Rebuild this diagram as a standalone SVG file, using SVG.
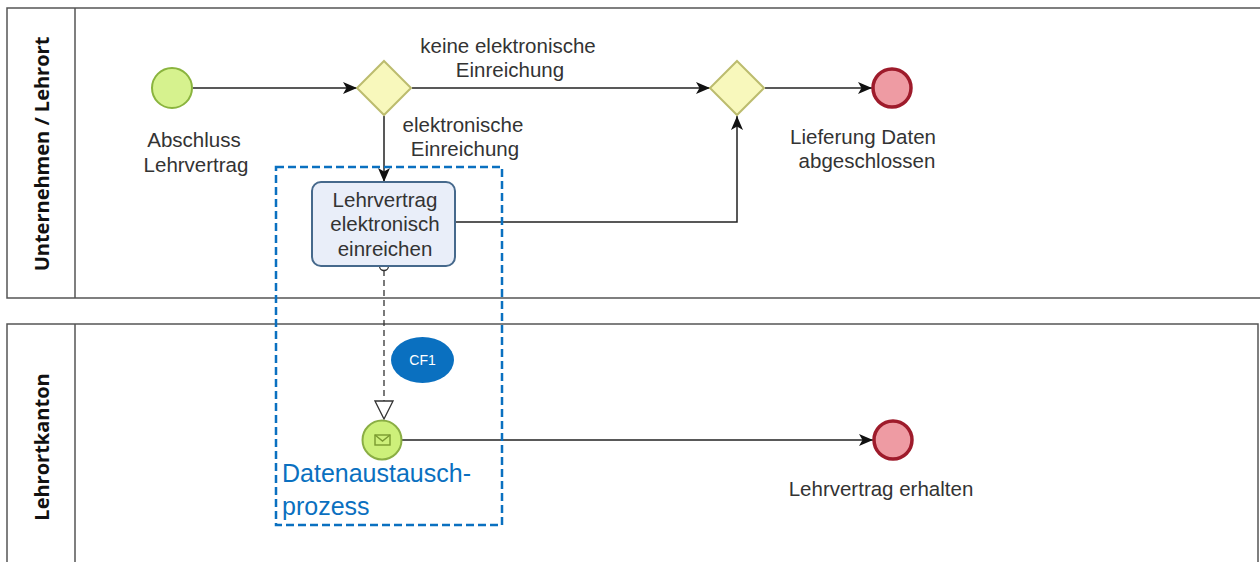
<svg xmlns="http://www.w3.org/2000/svg" width="1260" height="562" viewBox="0 0 1260 562">
<style>
.lane{fill:#fff;stroke:#555;stroke-width:1.5}
.lt{font-family:"Open Sans","Liberation Sans",sans-serif;font-weight:bold;font-size:20px;fill:#111;text-anchor:middle}
.lbl{font-family:"Liberation Sans",Arial,sans-serif;font-size:20.5px;fill:#333;text-anchor:middle}
.flow{fill:none;stroke:#222;stroke-width:1.5}
.msg{fill:none;stroke:#333;stroke-width:1.3;stroke-dasharray:6 4}
.start{fill:#d6f28e;stroke:#8ab43e;stroke-width:2}
.end{fill:#ee9ba3;stroke:#9e1b2b;stroke-width:3.5}
.gw{fill:#f8f8bc;stroke:#bcbc6e;stroke-width:2}
.task{fill:#e9eef9;stroke:#46698c;stroke-width:2}
.blue{font-family:"Liberation Sans",Arial,sans-serif;fill:#0a70c0}
</style>
<defs>
<marker id="ah" viewBox="0 0 14 12" refX="14" refY="6" markerWidth="14" markerHeight="12" markerUnits="userSpaceOnUse" orient="auto">
<path d="M0,0 L14,6 L0,12 L3.5,6 Z" fill="#111"/>
</marker>
<marker id="oh" viewBox="0 0 20 20" refX="19" refY="10" markerWidth="20" markerHeight="20" markerUnits="userSpaceOnUse" orient="auto">
<path d="M1,1 L19,10 L1,19 Z" fill="#fff" stroke="#333" stroke-width="1.3"/>
</marker>
</defs>
<rect width="1260" height="562" fill="#fff"/>
<g id="lane1">
<rect class="lane" x="7" y="8" width="1256" height="290"/>
<line x1="75" y1="8" x2="75" y2="298" stroke="#555" stroke-width="1.5"/>
<text class="lt" transform="translate(49,154) rotate(-90)">Unternehmen / Lehrort</text>
</g>
<g id="lane2">
<rect class="lane" x="7" y="324" width="1251" height="245"/>
<line x1="75" y1="324" x2="75" y2="562" stroke="#555" stroke-width="1.5"/>
<text class="lt" transform="translate(49,447) rotate(-90)">Lehrortkanton</text>
</g>
<g id="connectors">
<line class="flow" x1="193" y1="88" x2="357" y2="88" marker-end="url(#ah)"/>
<line class="flow" x1="412" y1="88" x2="710" y2="88" marker-end="url(#ah)"/>
<line class="flow" x1="765" y1="88" x2="872" y2="88" marker-end="url(#ah)"/>
<line class="flow" x1="384" y1="116" x2="384" y2="182" marker-end="url(#ah)"/>
<polyline class="flow" points="455,222 737,222 737,116" marker-end="url(#ah)"/>
<line class="flow" x1="402" y1="440" x2="873" y2="440" marker-end="url(#ah)"/>
<line class="msg" x1="384" y1="270" x2="384" y2="419" marker-end="url(#oh)"/>
<circle cx="384" cy="266" r="4.5" fill="#fff" stroke="#333" stroke-width="1.3"/>
<text class="lbl" x="508" y="53">keine elektronische</text>
<text class="lbl" x="510" y="77">Einreichung</text>
<text class="lbl" x="463" y="132">elektronische</text>
<text class="lbl" x="465" y="156">Einreichung</text>
</g>
<g id="start1">
<circle class="start" cx="172" cy="88" r="20"/>
<text class="lbl" x="194" y="147">Abschluss</text>
<text class="lbl" x="196" y="172">Lehrvertrag</text>
</g>
<g id="gw1">
<polygon class="gw" points="384,61 411,88 384,115 357,88"/>
</g>
<g id="gw2">
<polygon class="gw" points="737,61 764,88 737,115 710,88"/>
</g>
<g id="end1">
<circle class="end" cx="892" cy="88" r="19"/>
<text class="lbl" x="863" y="144">Lieferung Daten</text>
<text class="lbl" x="867" y="168">abgeschlossen</text>
</g>
<g id="task1">
<rect class="task" x="312" y="182" width="143" height="84" rx="9"/>
<text class="lbl" x="385" y="207">Lehrvertrag</text>
<text class="lbl" x="385" y="231">elektronisch</text>
<text class="lbl" x="385" y="256">einreichen</text>
</g>
<g id="msgstart">
<circle cx="382" cy="440" r="19.5" fill="#cdf07a" stroke="#8aae44" stroke-width="2"/>
<rect x="375" y="435" width="15" height="10" fill="none" stroke="#7a9a30" stroke-width="1.4"/>
<polyline points="375,435 382.5,441 390,435" fill="none" stroke="#7a9a30" stroke-width="1.4"/>
</g>
<g id="end2">
<circle class="end" cx="893" cy="440" r="19"/>
<text class="lbl" x="881" y="496">Lehrvertrag erhalten</text>
</g>
<g id="cf1">
<ellipse cx="422.5" cy="360" rx="31.5" ry="23" fill="#0a70c0"/>
<text x="422.5" y="365" text-anchor="middle" font-family="Liberation Sans, Arial, sans-serif" font-size="14" fill="#fff">CF1</text>
</g>
<g id="datenaustausch">
<rect x="276" y="167" width="226" height="358" fill="none" stroke="#0a70c0" stroke-width="2.5" stroke-dasharray="8 4"/>
<text class="blue" x="282" y="482" font-size="25">Datenaustausch-</text>
<text class="blue" x="282" y="515" font-size="25">prozess</text>
</g>
</svg>
